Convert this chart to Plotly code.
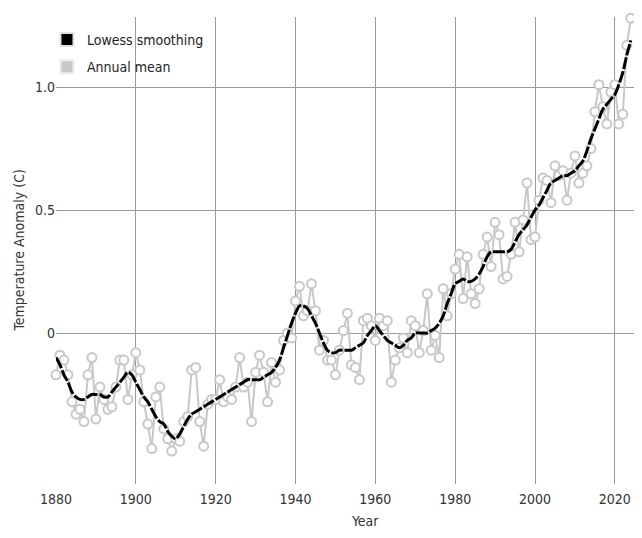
import plotly.graph_objects as go

years = list(range(1880, 2025))

annual_mean = [
    -0.17, -0.09, -0.11, -0.17, -0.28, -0.33, -0.31, -0.36, -0.17, -0.10,
    -0.35, -0.22, -0.27, -0.31, -0.30, -0.22, -0.11, -0.11, -0.27, -0.17,
    -0.08, -0.15, -0.28, -0.37, -0.47, -0.26, -0.22, -0.39, -0.43, -0.48,
    -0.43, -0.44, -0.36, -0.34, -0.15, -0.14, -0.36, -0.46, -0.29, -0.27,
    -0.27, -0.19, -0.28, -0.26, -0.27, -0.22, -0.10, -0.22, -0.20, -0.36,
    -0.16, -0.09, -0.16, -0.28, -0.12, -0.20, -0.15, -0.03, -0.00, -0.02,
    0.13, 0.19, 0.07, 0.09, 0.20, 0.09, -0.07, -0.03, -0.11, -0.11,
    -0.17, -0.07, 0.01, 0.08, -0.13, -0.14, -0.19, 0.05, 0.06, 0.03,
    -0.03, 0.06, 0.03, 0.05, -0.20, -0.11, -0.06, -0.02, -0.08, 0.05,
    0.03, -0.08, 0.01, 0.16, -0.07, -0.01, -0.10, 0.18, 0.07, 0.16,
    0.26, 0.32, 0.14, 0.31, 0.16, 0.12, 0.18, 0.32, 0.39, 0.27,
    0.45, 0.40, 0.22, 0.23, 0.32, 0.45, 0.33, 0.46, 0.61, 0.38,
    0.39, 0.54, 0.63, 0.62, 0.53, 0.68, 0.64, 0.66, 0.54, 0.65,
    0.72, 0.61, 0.65, 0.68, 0.75, 0.90, 1.01, 0.92, 0.85, 0.98,
    1.01, 0.85, 0.89, 1.17, 1.28,
]

lowess = [
    -0.10, -0.13, -0.17, -0.20, -0.24, -0.26, -0.27, -0.27, -0.26, -0.25,
    -0.25, -0.25, -0.26, -0.26, -0.24, -0.22, -0.20, -0.18, -0.16, -0.17,
    -0.20, -0.23, -0.26, -0.28, -0.31, -0.34, -0.36, -0.37, -0.40, -0.42,
    -0.43, -0.41, -0.38, -0.35, -0.33, -0.32, -0.31, -0.30, -0.29, -0.28,
    -0.27, -0.26, -0.25, -0.24, -0.23, -0.22, -0.21, -0.20, -0.19, -0.19,
    -0.19, -0.19, -0.18, -0.17, -0.16, -0.14, -0.11, -0.06, -0.01, 0.04,
    0.08, 0.11, 0.11, 0.10, 0.07, 0.04, 0.00, -0.04, -0.07, -0.08,
    -0.08, -0.07, -0.07, -0.07, -0.07, -0.06, -0.05, -0.04, -0.01, 0.01,
    0.03, 0.01, -0.01, -0.03, -0.04, -0.05, -0.06, -0.05, -0.03, -0.02,
    -0.00, 0.00, 0.00, 0.00, 0.01, 0.02, 0.04, 0.07, 0.12, 0.16,
    0.20, 0.21, 0.22, 0.21, 0.21, 0.22, 0.24, 0.27, 0.31, 0.33,
    0.33, 0.33, 0.33, 0.33, 0.34, 0.37, 0.40, 0.42, 0.44, 0.47,
    0.50, 0.52, 0.55, 0.58, 0.61, 0.62, 0.63, 0.64, 0.64, 0.65,
    0.66, 0.68, 0.70, 0.74, 0.79, 0.83, 0.87, 0.91, 0.93, 0.95,
    0.97, 1.01, 1.06, 1.13, 1.19,
]

x_ticks = [1880, 1900, 1920, 1940, 1960, 1980, 2000, 2020]
y_ticks = [0, 0.5, 1.0]
y_tick_labels = ["0", "0.5", "1.0"]

FONT = "DejaVu Sans Condensed, Liberation Sans Narrow, sans-serif"
GRAY = "#c8c8c8"
TXT = "#333333"

fig = go.Figure()

fig.add_trace(go.Scatter(
    x=years, y=annual_mean, mode="lines+markers",
    line=dict(color=GRAY, width=2),
    marker=dict(symbol="circle", size=9, color="white",
                line=dict(color=GRAY, width=2)),
    cliponaxis=False,
    showlegend=False, hoverinfo="skip",
))
fig.add_trace(go.Scatter(
    x=years, y=lowess, mode="lines",
    line=dict(color="black", width=3, dash="12px,2px", shape="spline"),
    showlegend=False, hoverinfo="skip",
))

# legend entries (square swatches)
fig.add_trace(go.Scatter(
    x=[None], y=[None], mode="markers", name="Lowess smoothing",
    legendgroup="a",
    marker=dict(symbol="square", size=13, color="black",
                line=dict(color="#e2e2e2", width=2)),
))
fig.add_trace(go.Scatter(
    x=[None], y=[None], mode="markers", name="Annual mean",
    legendgroup="b",
    marker=dict(symbol="square", size=13, color=GRAY,
                line=dict(color="#ececec", width=2)),
))

fig.update_layout(
    width=626, height=522,
    margin=dict(l=48, r=0, t=9, b=46),
    paper_bgcolor="white", plot_bgcolor="white",
    font=dict(family=FONT, size=14, color=TXT),
    showlegend=True,
    legend=dict(
        x=-0.0156, y=0.985, xanchor="left", yanchor="top",
        bgcolor="rgba(0,0,0,0)", borderwidth=0,
        font=dict(family=FONT, size=14, color="#222222"),
        traceorder="grouped", tracegroupgap=6,
        itemclick=False, itemdoubleclick=False,
    ),
    shapes=[
        dict(type="rect", xref="paper", yref="paper",
             x0=0.035, x1=0.249, y0=0.844, y1=0.979,
             fillcolor="white", line=dict(width=0), layer="below"),
    ],
    xaxis=dict(
        range=[1880, 2024.8], tickvals=x_ticks,
        showgrid=True, gridcolor="#9a9a9a", gridwidth=1,
        zeroline=False, showline=False,
        ticks="outside", ticklen=2, tickcolor="rgba(0,0,0,0)",
        tickfont=dict(family=FONT, size=14, color=TXT),
    ),
    yaxis=dict(
        range=[-0.614, 1.285], tickvals=y_ticks, ticktext=y_tick_labels,
        showgrid=True, gridcolor="#9a9a9a", gridwidth=1,
        zeroline=False, showline=False,
        ticks="",
        tickfont=dict(family=FONT, size=14, color=TXT),
    ),
    annotations=[
        dict(text="Year", xref="paper", yref="paper",
             x=0.534, y=-0.079, xanchor="center", yanchor="middle",
             showarrow=False, font=dict(family=FONT, size=14, color=TXT)),
        dict(text="Temperature Anomaly (C)", xref="paper", yref="paper",
             x=-0.0657, y=0.5, xanchor="center", yanchor="middle",
             textangle=-90, showarrow=False,
             font=dict(family=FONT, size=14, color=TXT)),
    ],
)

fig.write_html("out.html")
